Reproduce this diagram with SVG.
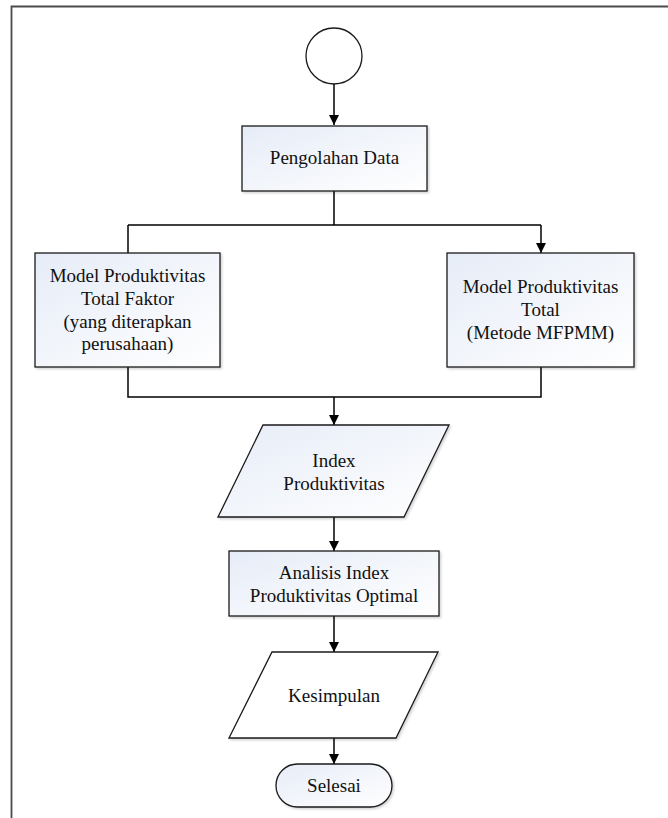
<svg xmlns="http://www.w3.org/2000/svg" width="668" height="818" viewBox="0 0 668 818">
<defs>
<linearGradient id="g" x1="0" y1="0" x2="1" y2="1">
<stop offset="0" stop-color="#e6ecf7"/>
<stop offset="1" stop-color="#ffffff"/>
</linearGradient>
<filter id="sh" x="-10%" y="-10%" width="130%" height="130%">
<feDropShadow dx="1.5" dy="1.5" stdDeviation="1.2" flood-color="#000" flood-opacity="0.18"/>
</filter>
<marker id="ah" viewBox="0 0 10 10" refX="10" refY="5" markerWidth="10" markerHeight="10" markerUnits="userSpaceOnUse" orient="auto">
<path d="M0,0 L10,5 L0,10 Z" fill="#000"/>
</marker>
<style>
.shape{fill:url(#g);stroke:#1a1a1a;stroke-width:1.3;filter:url(#sh)}
.white{fill:#fff;stroke:#1a1a1a;stroke-width:1.3;filter:url(#sh)}
.plain{fill:#fff;stroke:#1a1a1a;stroke-width:1.3}
.t{font-family:'Liberation Serif','Times New Roman',Times,serif;font-size:19px;fill:#111;text-anchor:middle}
.c{fill:none;stroke:#000;stroke-width:1.5}
</style>
</defs>
<rect width="668" height="818" fill="#fff"/>
<path d="M11.5,818 L11.5,6.5 L668,6.5" fill="none" stroke="#4a4a4a" stroke-width="1.8"/>

<g id="connectors">
<path class="c" d="M334,84 L334,125" marker-end="url(#ah)"/>
<path class="c" d="M334,191 L334,225 M128,225 L541,225 M128,225 L128,253"/>
<path class="c" d="M541,225 L541,253" marker-end="url(#ah)"/>
<path class="c" d="M128,367 L128,397 L541,397 L541,367"/>
<path class="c" d="M334,397 L334,425" marker-end="url(#ah)"/>
<path class="c" d="M334,517 L334,551" marker-end="url(#ah)"/>
<path class="c" d="M334,616 L334,652" marker-end="url(#ah)"/>
<path class="c" d="M334,738 L334,764" marker-end="url(#ah)"/>
</g>

<g id="start">
<circle class="plain" cx="334" cy="56" r="28"/>
</g>

<g id="pengolahan">
<rect class="shape" x="242" y="126" width="185" height="65"/>
<text class="t" x="334.5" y="164">Pengolahan Data</text>
</g>

<g id="model-faktor">
<rect class="shape" x="35" y="253" width="185" height="114"/>
<text class="t" x="127.5" y="282">Model Produktivitas</text>
<text class="t" x="127.5" y="305">Total Faktor</text>
<text class="t" x="127.5" y="327.5">(yang diterapkan</text>
<text class="t" x="127.5" y="350">perusahaan)</text>
</g>

<g id="model-total">
<rect class="shape" x="447" y="253" width="187" height="114"/>
<text class="t" x="540.5" y="293">Model Produktivitas</text>
<text class="t" x="540.5" y="316">Total</text>
<text class="t" x="540.5" y="339">(Metode MFPMM)</text>
</g>

<g id="index">
<polygon class="shape" points="263,425 449,425 404,517 218,517"/>
<text class="t" x="334" y="467">Index</text>
<text class="t" x="334" y="490">Produktivitas</text>
</g>

<g id="analisis">
<rect class="shape" x="229" y="551" width="210" height="65"/>
<text class="t" x="334" y="579">Analisis Index</text>
<text class="t" x="334" y="602">Produktivitas Optimal</text>
</g>

<g id="kesimpulan">
<polygon class="white" points="272,652 438,652 396,738 229,738"/>
<text class="t" x="334" y="702">Kesimpulan</text>
</g>

<g id="selesai">
<rect class="shape" x="276" y="764" width="116" height="43" rx="21.5"/>
<text class="t" x="334" y="792">Selesai</text>
</g>
</svg>
